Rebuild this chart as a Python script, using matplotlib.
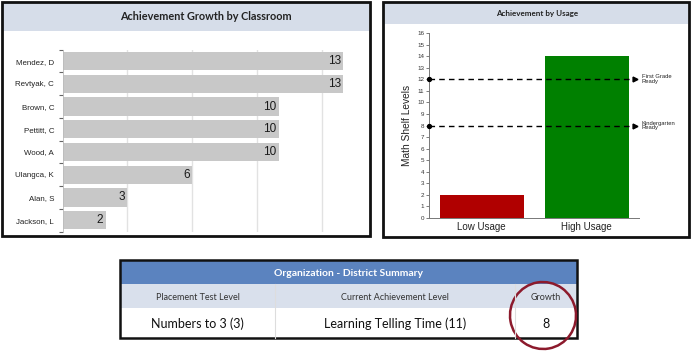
import matplotlib.pyplot as plt
from matplotlib.patches import Rectangle, Ellipse

# data
names = ['Mendez, D', 'Revtyak, C', 'Brown, C', 'Pettitt, C', 'Wood, A',
         'Ulangca, K', 'Alan, S', 'Jackson, L']
growth = [13, 13, 10, 10, 10, 6, 3, 2]

usage_labels = ['Low Usage', 'High Usage']
usage_levels = [2, 14]
usage_colors = ['#b00000', '#008000']
bench_levels = [12, 8]
bench_labels = ['First Grade\nReady', 'Kindergarten\nReady']

table_title = 'Organization - District Summary'
table_cols = ['Placement Test Level', 'Current Achievement Level', 'Growth']
table_vals = ['Numbers to 3 (3)', 'Learning Telling Time (11)', '8']

W, H = 697, 361
HEAD = 'Lato'
SANS = 'Liberation Sans'

fig = plt.figure(figsize=(W / 100, H / 100), dpi=100)


def px_axes(x, y, w, h):
    return fig.add_axes([x / W, 1 - (y + h) / H, w / W, h / H])


# background layer in pixel coordinates
bg = px_axes(0, 0, W, H)
bg.set_xlim(0, W)
bg.set_ylim(H, 0)
bg.axis('off')

# left panel frame
bg.add_patch(Rectangle((3, 3), 366, 28, color='#d6dde9', lw=0))
bg.add_patch(Rectangle((2, 2), 368, 234, fill=False, ec='#111111', lw=2))
bg.text(206, 17, 'Achievement Growth by Classroom', ha='center', va='center',
        family=HEAD, fontweight='bold', fontsize=7.8, color='#222222')

# right panel frame
bg.add_patch(Rectangle((384, 3), 304, 21, color='#d6dde9', lw=0))
bg.add_patch(Rectangle((383, 2), 306, 235, fill=False, ec='#111111', lw=2))
bg.text(537, 13.5, 'Achievement by Usage', ha='center', va='center',
        family=HEAD, fontweight='bold', fontsize=5.8, color='#222222')

# summary table
tx0, tx1 = 120, 577
col_edges = [120, 275, 515, 577]
bg.add_patch(Rectangle((tx0, 260), tx1 - tx0, 24, color='#5b83bf', lw=0))
bg.add_patch(Rectangle((tx0, 284), tx1 - tx0, 24, color='#d9e0ec', lw=0))
bg.text((tx0 + tx1) / 2, 273, table_title, ha='center', va='center',
        family=HEAD, fontweight='bold', fontsize=7.5, color='white')
for i in range(3):
    cx = (col_edges[i] + col_edges[i + 1]) / 2
    bg.text(cx, 297, table_cols[i], ha='center', va='center',
            family=HEAD, fontsize=6.5, color='#333333')
    bg.text(cx, 324, table_vals[i], ha='center', va='center',
            family=HEAD, fontsize=9, color='#111111')
for xe in col_edges[1:3]:
    bg.plot([xe, xe], [284, 338], color='#dddddd', lw=0.8)
bg.add_patch(Rectangle((tx0, 260), tx1 - tx0, 78, fill=False,
                       ec='#111111', lw=1.8))
bg.add_patch(Ellipse((543, 315.5), 66, 67, fill=False, ec='#8c1a2c', lw=1.8,
                     angle=-10))

# left chart: growth by classroom
ax1 = px_axes(62.5, 49.7, 302.5, 181.9)
ax1.set_facecolor('none')
ypos = list(range(len(names)))
ax1.barh(ypos, growth, height=0.8, color='#c8c8c8', zorder=2)
for y, v in zip(ypos, growth):
    ax1.text(v - 0.12, y, str(v), ha='right', va='center', family=SANS,
             fontsize=8.5, color='#1a1a1a', zorder=3)
ax1.set_xlim(0, 14)
ax1.set_ylim(len(names) - 0.5, -0.5)
ax1.set_xticks([3, 6, 9, 12])
ax1.grid(axis='x', color='#e2e2e2', lw=1, zorder=0)
ax1.tick_params(axis='x', length=0, labelbottom=False)
ax1.set_yticks([y - 0.5 for y in ypos] + [len(names) - 0.5], minor=True)
ax1.set_yticks(ypos)
ax1.set_yticklabels(names, family=SANS, fontsize=5.7, color='#222222')
ax1.tick_params(axis='y', which='major', length=0, pad=6)
ax1.tick_params(axis='y', which='minor', length=3, color='#666666', width=0.8)
for s in ['top', 'right', 'bottom']:
    ax1.spines[s].set_visible(False)
ax1.spines['left'].set_color('#bbbbbb')
ax1.spines['left'].set_linewidth(0.6)

# right chart: achievement by usage
ax2 = px_axes(429, 33, 210, 185)
ax2.set_facecolor('none')
xpos = list(range(len(usage_labels)))
ax2.bar(xpos, usage_levels, width=0.8, color=usage_colors, zorder=2)
ax2.set_xlim(-0.5, 1.5)
ax2.set_ylim(0, 16)
ax2.set_yticks(range(0, 17))
ax2.set_yticklabels([str(v) for v in range(0, 17)], family=SANS,
                    fontsize=4.5, color='#333333')
ax2.tick_params(axis='y', length=2, width=0.6, color='#666666', pad=1.5)
ax2.set_xticks(xpos)
ax2.set_xticklabels(usage_labels, family=SANS, fontsize=7, color='#222222')
ax2.tick_params(axis='x', length=0, pad=3)
ax2.set_ylabel('Math Shelf Levels', family=SANS, fontsize=7.3,
               color='#222222', labelpad=4)
for s in ['top', 'right']:
    ax2.spines[s].set_visible(False)
for s in ['left', 'bottom']:
    ax2.spines[s].set_color('#777777')
    ax2.spines[s].set_linewidth(0.7)
for lvl, lab in zip(bench_levels, bench_labels):
    ax2.plot([-0.5, 1.46], [lvl, lvl], color='black', ls=(0, (4, 3)), lw=1,
             zorder=4, clip_on=False)
    ax2.plot([-0.5], [lvl], 'o', color='black', ms=2.8, zorder=5,
             clip_on=False)
    ax2.plot([1.46], [lvl], '>', color='black', ms=3.5, zorder=5,
             clip_on=False)
    ax2.text(1.525, lvl, lab, ha='left', va='center', family=SANS,
             fontsize=4.2, color='#222222', linespacing=0.95)

fig.savefig('out.png', dpi=100)
